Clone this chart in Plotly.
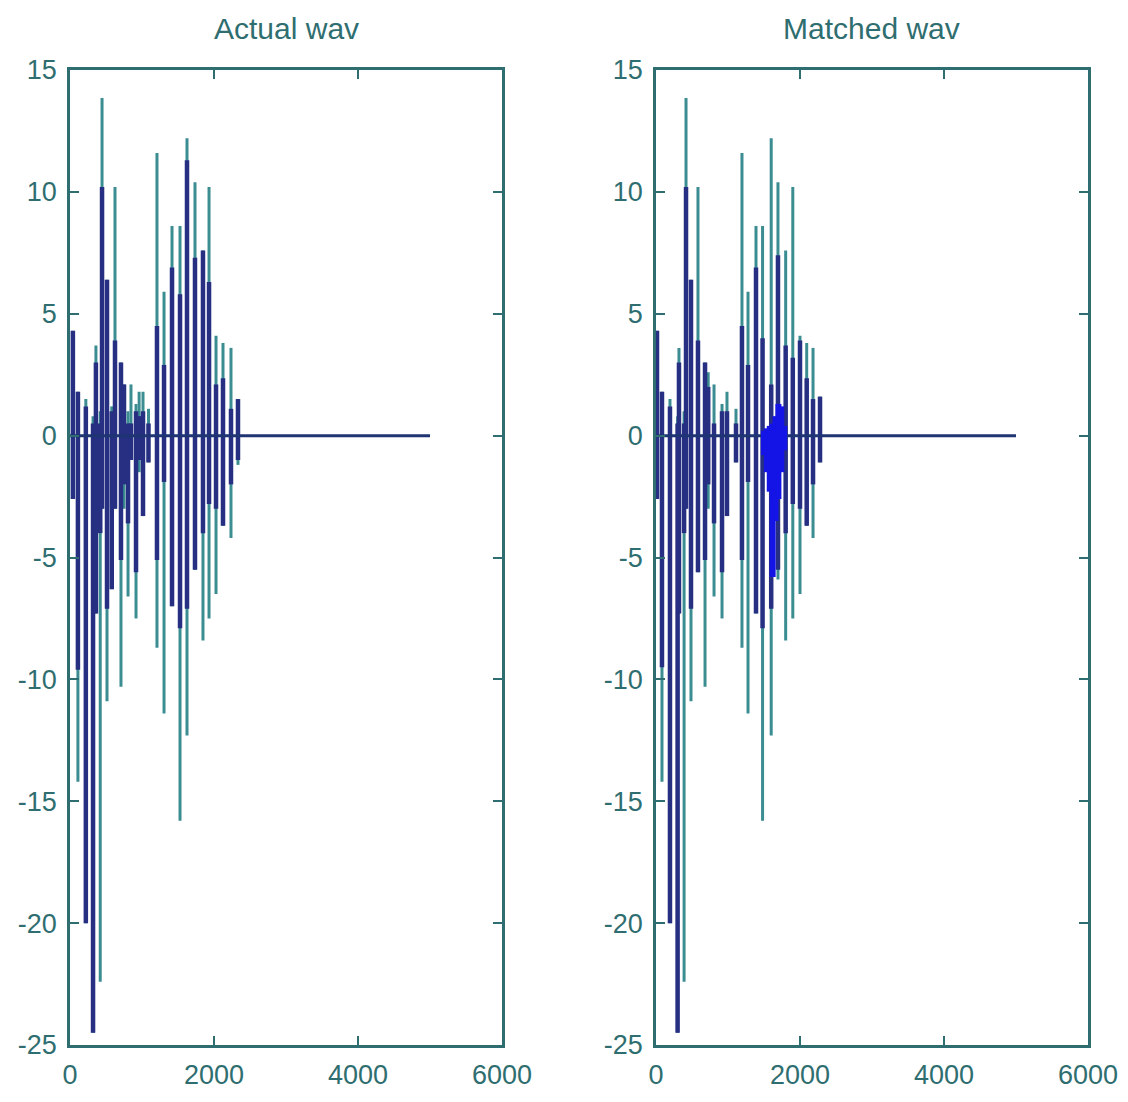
import plotly.graph_objects as go

# ---------------- data ----------------
# Actual wav: spike positions (sample index), outer (faint) extent and inner (dense) extent
act_x     = [40, 110, 220, 320, 360, 420, 445, 514, 580, 625, 708, 750, 806, 847, 917, 960, 1014, 1090,
             1208, 1306, 1417, 1528, 1625, 1736, 1847, 1931, 2028, 2125, 2236, 2333]
act_o_hi  = [4.3, 1.8, 1.5, 0.8, 3.7, 1.0, 13.85, 6.4, 1.2, 10.2, 3.0, 2.1, 1.0, 2.1, 1.3, 1.8, 1.8, 1.1,
             11.6, 5.9, 8.6, 8.6, 12.2, 10.4, 7.6, 10.2, 4.1, 3.8, 3.6, 1.5]
act_o_lo  = [-2.6, -14.2, -20.0, -24.5, -7.3, -22.4, -3.0, -10.9, -6.3, -3.0, -10.3, -3.0, -6.6, -1.0, -7.5, -1.5, -3.3, -1.1,
             -8.7, -11.4, -7.0, -15.8, -12.3, -5.5, -8.4, -7.5, -6.5, -3.7, -4.2, -1.2]
act_i_hi  = [4.3, 1.8, 1.2, 0.5, 3.0, 0.5, 10.2, 6.4, 1.0, 3.9, 3.0, 2.1, 0.5, 0.5, 1.0, 0.8, 1.0, 0.5,
             4.5, 2.9, 6.9, 5.8, 11.3, 7.3, 7.6, 6.3, 2.1, 2.35, 1.1, 1.5]
act_i_lo  = [-2.6, -9.6, -20.0, -24.5, -7.3, -4.0, -3.0, -7.1, -6.3, -3.0, -5.1, -2.0, -3.6, -1.0, -5.6, -1.0, -3.3, -1.1,
             -5.1, -1.9, -7.0, -7.9, -7.1, -5.5, -4.0, -2.8, -3.0, -3.7, -2.0, -1.0]

# Matched wav
mat_x     = [14, 83, 194, 300, 319, 390, 417, 486, 583, 681, 725, 806, 917, 986, 1111,
             1194, 1278, 1389, 1480, 1600, 1694, 1801, 1900, 2000, 2093, 2181, 2278]
mat_o_hi  = [4.3, 1.8, 1.5, 0.8, 3.6, 1.0, 13.85, 6.4, 10.2, 3.0, 2.6, 2.1, 1.3, 1.8, 1.1,
             11.6, 5.9, 8.6, 8.6, 12.2, 10.4, 7.6, 10.2, 4.1, 3.8, 3.6, 1.6]
mat_o_lo  = [-2.6, -14.2, -20.0, -24.5, -7.3, -22.4, -3.0, -10.9, -5.6, -10.3, -3.0, -6.6, -7.5, -3.3, -1.1,
             -8.7, -11.4, -7.3, -15.8, -12.3, -5.9, -8.4, -7.5, -6.5, -3.7, -4.2, -1.1]
mat_i_hi  = [4.3, 1.8, 1.2, 0.5, 3.0, 0.5, 10.2, 6.4, 3.9, 3.0, 2.0, 0.5, 1.0, 1.0, 0.5,
             4.5, 2.9, 6.9, 4.0, 2.1, 7.4, 3.7, 3.2, 3.9, 2.35, 1.5, 1.6]
mat_i_lo  = [-2.6, -9.5, -20.0, -24.5, -7.3, -4.0, -3.0, -7.1, -5.6, -5.1, -2.0, -3.6, -5.6, -3.3, -1.1,
             -5.1, -1.9, -7.3, -7.9, -7.1, -5.5, -4.0, -2.8, -3.0, -3.7, -2.0, -1.1]
# bright blue cluster in the matched wave
blob_x  = [1500, 1540, 1580, 1620, 1660, 1700, 1740, 1780]
blob_hi = [0.2, 0.3, 0.4, 0.5, 0.8, 1.3, 1.2, 0.4]
blob_lo = [-0.8, -1.5, -2.3, -5.8, -3.5, -2.6, -1.5, -0.6]

# flat tail of both waves
tail_x = [0, 5000]
tail_y = [0, 0]

titles = ["Actual wav", "Matched wav"]
x_ticks = [0, 2000, 4000, 6000]
x_labels = ["0", "2000", "4000", "6000"]
y_ticks = [-25, -20, -15, -10, -5, 0, 5, 10, 15]
y_labels = ["-25", "-20", "-15", "-10", "-5", "0", "5", "10", "15"]

# ---------------- figure ----------------
AX = "#2f6e70"
OUTER = "#3b8d92"
INNER = "#262f82"
FONT = "Liberation Sans Narrow, Liberation Sans, Arial"


def segs(xs, lo, hi):
    X, Y = [], []
    for x, a, b in zip(xs, lo, hi):
        X += [x, x, None]
        Y += [a, b, None]
    return X, Y


fig = go.Figure()

sets = [
    ("x", "y", act_x, act_o_lo, act_o_hi, act_i_lo, act_i_hi),
    ("x2", "y2", mat_x, mat_o_lo, mat_o_hi, mat_i_lo, mat_i_hi),
]
for xa, ya, xs, olo, ohi, ilo, ihi in sets:
    X, Y = segs(xs, olo, ohi)
    fig.add_trace(go.Scatter(x=X, y=Y, mode="lines", line=dict(color=OUTER, width=3),
                             xaxis=xa, yaxis=ya, showlegend=False, hoverinfo="skip"))
    X, Y = segs(xs, ilo, ihi)
    fig.add_trace(go.Scatter(x=X, y=Y, mode="lines", line=dict(color=INNER, width=4.5),
                             xaxis=xa, yaxis=ya, showlegend=False, hoverinfo="skip"))
    fig.add_trace(go.Scatter(x=tail_x, y=tail_y, mode="lines", line=dict(color="#1f3472", width=3),
                             xaxis=xa, yaxis=ya, showlegend=False, hoverinfo="skip"))

X, Y = segs(blob_x, blob_lo, blob_hi)
fig.add_trace(go.Scatter(x=X, y=Y, mode="lines", line=dict(color="#1414e6", width=6),
                         xaxis="x2", yaxis="y2", showlegend=False, hoverinfo="skip"))

W, H = 1128, 1102
dom1 = [70 / W, 502 / W]
dom2 = [656 / W, 1088 / W]
ydom = [1 - 1045 / H, 1 - 70 / H]

font_tick = dict(family=FONT, size=27, color=AX)

common_x = dict(range=[0, 6000], tickvals=x_ticks, ticktext=x_labels, ticks="inside", ticklen=9,
                tickwidth=2, tickcolor=AX, showline=True, linecolor=AX, linewidth=2.5, mirror="ticks",
                showgrid=False, zeroline=False, tickfont=font_tick, automargin=False,
                ticklabelstandoff=4)
common_y = dict(range=[-25, 15], tickvals=y_ticks, ticktext=y_labels, ticks="inside", ticklen=9,
                tickwidth=2, tickcolor=AX, showline=True, linecolor=AX, linewidth=2.5, mirror="ticks",
                showgrid=False, zeroline=False, tickfont=font_tick, automargin=False,
                ticklabelstandoff=5)

fig.update_layout(
    width=W, height=H,
    margin=dict(l=0, r=0, t=0, b=0, autoexpand=False),
    paper_bgcolor="white", plot_bgcolor="white",
    xaxis=dict(domain=dom1, anchor="y", **common_x),
    yaxis=dict(domain=ydom, anchor="x", **common_y),
    xaxis2=dict(domain=dom2, anchor="y2", **common_x),
    yaxis2=dict(domain=ydom, anchor="x2", **common_y),
    annotations=[
        dict(text=titles[0], x=(dom1[0] + dom1[1]) / 2, y=1 - 28 / H, xref="paper", yref="paper",
             xanchor="center", yanchor="middle", showarrow=False,
             font=dict(family=FONT, size=30, color=AX)),
        dict(text=titles[1], x=(dom2[0] + dom2[1]) / 2, y=1 - 28 / H, xref="paper", yref="paper",
             xanchor="center", yanchor="middle", showarrow=False,
             font=dict(family=FONT, size=30, color=AX)),
    ],
)

fig.write_html("out.html", config={"displayModeBar": False},
               post_script="document.body.style.margin='0';document.body.style.overflow='hidden';")
